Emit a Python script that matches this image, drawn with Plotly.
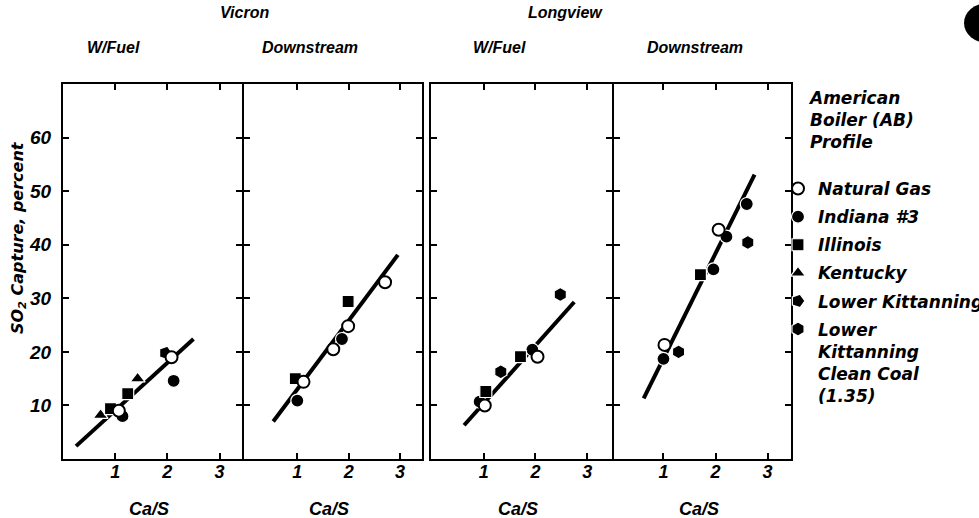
import plotly.graph_objects as go

# ---------------- data ----------------
x_tick_vals = [1, 2, 3]
x_tick_text = ["1", "2", "3"]
y_tick_vals = [10, 20, 30, 40, 50, 60]
y_tick_text = ["10", "20", "30", "40", "50", "60"]

plant_titles = ["Vicron", "Longview"]
panel_titles = ["W/Fuel", "Downstream", "W/Fuel", "Downstream"]

fuel_names = ["Natural Gas", "Indiana #3", "Illinois", "Kentucky",
              "Lower Kittanning", "Lower<br>Kittanning<br>Clean Coal<br>(1.35)"]

# Panel 1: Vicron, W/Fuel
p1_gas_x = [1.07, 2.08]
p1_gas_y = [9.0, 19.0]
p1_ind_x = [1.14, 2.12]
p1_ind_y = [8.0, 14.6]
p1_ill_x = [0.91, 1.24]
p1_ill_y = [9.4, 12.2]
p1_ken_x = [0.72, 1.43]
p1_ken_y = [8.2, 15.0]
p1_lk_x = [1.96]
p1_lk_y = [19.8]
p1_fit_x = [0.25, 2.5]
p1_fit_y = [2.4, 22.4]

# Panel 2: Vicron, Downstream
p2_gas_x = [1.12, 1.70, 1.99, 2.71]
p2_gas_y = [14.4, 20.5, 24.8, 33.0]
p2_ind_x = [1.00, 1.87]
p2_ind_y = [10.9, 22.4]
p2_ill_x = [0.96, 1.99]
p2_ill_y = [15.0, 29.4]
p2_fit_x = [0.53, 2.96]
p2_fit_y = [7.0, 38.1]

# Panel 3: Longview, W/Fuel
p3_gas_x = [1.02, 2.04]
p3_gas_y = [10.0, 19.1]
p3_ind_x = [0.92, 1.94]
p3_ind_y = [10.7, 20.4]
p3_ill_x = [1.04, 1.71]
p3_ill_y = [12.6, 19.1]
p3_cc_x = [1.33, 2.48]
p3_cc_y = [16.3, 30.7]
p3_fit_x = [0.62, 2.75]
p3_fit_y = [6.3, 29.3]

# Panel 4: Longview, Downstream
p4_gas_x = [1.02, 2.06]
p4_gas_y = [21.3, 42.8]
p4_ind_x = [1.00, 1.96, 2.21, 2.60]
p4_ind_y = [18.7, 35.4, 41.5, 47.6]
p4_ill_x = [1.71]
p4_ill_y = [34.4]
p4_cc_x = [1.29, 2.62]
p4_cc_y = [20.0, 40.4]
p4_fit_x = [0.62, 2.75]
p4_fit_y = [11.3, 53.1]

# ---------------- layout helpers ----------------
FW, FH = 979, 518


def PX(x):
    return x / FW


def PY(y):
    return (FH - y) / FH


BOLD_IT = dict(family="Liberation Sans, Arial, sans-serif", color="black",
               weight="bold", style="italic")
LEG_FONT = dict(family="DejaVu Sans, sans-serif", color="black", size=17,
                weight="bold", style="italic")

WL = dict(color="white", width=1.2)
styles = {
    "gas": dict(symbol="circle", size=12, color="white", line=dict(color="black", width=2)),
    "ind": dict(symbol="circle", size=13, color="black", line=WL),
    "ill": dict(symbol="square", size=12, color="black", line=WL),
    "ken": dict(symbol="triangle-up", size=13, color="black", line=WL),
    "lk": dict(symbol="pentagon", angle=90, size=14, color="black", line=WL),
    "cc": dict(symbol="hexagon", size=14, color="black", line=WL),
}
rank = {"gas": 1, "ind": 2, "ill": 3, "ken": 4, "lk": 5, "cc": 6}
label = dict(zip(["gas", "ind", "ill", "ken", "lk", "cc"], fuel_names))

panels = [
    dict(fit=(p1_fit_x, p1_fit_y), pts=[("ken", p1_ken_x, p1_ken_y), ("ill", p1_ill_x, p1_ill_y),
                                        ("ind", p1_ind_x, p1_ind_y), ("lk", p1_lk_x, p1_lk_y),
                                        ("gas", p1_gas_x, p1_gas_y)]),
    dict(fit=(p2_fit_x, p2_fit_y), pts=[("ill", p2_ill_x, p2_ill_y), ("ind", p2_ind_x, p2_ind_y),
                                        ("gas", p2_gas_x, p2_gas_y)]),
    dict(fit=(p3_fit_x, p3_fit_y), pts=[("ind", p3_ind_x, p3_ind_y), ("ill", p3_ill_x, p3_ill_y),
                                        ("cc", p3_cc_x, p3_cc_y), ("gas", p3_gas_x, p3_gas_y)]),
    dict(fit=(p4_fit_x, p4_fit_y), pts=[("ill", p4_ill_x, p4_ill_y), ("ind", p4_ind_x, p4_ind_y),
                                        ("cc", p4_cc_x, p4_cc_y), ("gas", p4_gas_x, p4_gas_y)]),
]

# panel page-pixel boxes (left, right); shared borders offset 2px so lines coincide
px_x = [(63, 242), (244, 422), (431, 612), (614, 791)]
x_ranges = [[0.0, 3.43], [-0.04, 3.43], [-0.02, 3.48], [0.05, 3.45]]
top_px, bot_px = 84, 459

fig = go.Figure()
shown = set()
for i, p in enumerate(panels):
    ax = "" if i == 0 else str(i + 1)
    fx, fy = p["fit"]
    fig.add_trace(go.Scatter(x=fx, y=fy, mode="lines", line=dict(color="black", width=4),
                             xaxis="x" + ax, yaxis="y" + ax, showlegend=False, hoverinfo="skip"))
    for key, xs, ys in p["pts"]:
        show = key not in shown
        shown.add(key)
        fig.add_trace(go.Scatter(x=xs, y=ys, mode="markers", marker=dict(styles[key]),
                                 name=label[key], legendgroup=key, legendrank=rank[key],
                                 showlegend=show, xaxis="x" + ax, yaxis="y" + ax))

ydom = [PY(bot_px), PY(top_px)]
for i in range(4):
    ax = "" if i == 0 else str(i + 1)
    l, r = px_x[i]
    fig.update_layout(**{
        "xaxis" + ax: dict(domain=[PX(l), PX(r)], range=x_ranges[i], anchor="y" + ax,
                           tickvals=x_tick_vals, ticktext=x_tick_text, ticks="inside",
                           ticklen=6, tickwidth=2, tickcolor="black", showline=True,
                           linewidth=2, linecolor="black", mirror="ticks", showgrid=False,
                           zeroline=False, ticklabelstandoff=-5,
                           tickfont=dict(BOLD_IT, size=18)),
        "yaxis" + ax: dict(domain=ydom, range=[0, 70], anchor="x" + ax,
                           tickvals=y_tick_vals, ticktext=y_tick_text, ticks="inside",
                           ticklen=6, tickwidth=2, tickcolor="black", showline=True,
                           linewidth=2, linecolor="black", mirror="ticks", showgrid=False,
                           zeroline=False, showticklabels=(i == 0), ticklabelstandoff=6,
                           tickfont=dict(BOLD_IT, size=19)),
    })

ann = []
title_font = dict(family="Liberation Sans, Arial", color="black",
                  size=16, style="italic", weight="bold")
for txt, xp in zip(plant_titles, [245, 565]):
    ann.append(dict(text=txt, x=PX(xp), y=PY(13), xref="paper", yref="paper",
                    showarrow=False, xanchor="center", yanchor="middle", font=title_font))
for txt, xp in zip(panel_titles, [113, 310, 500, 695]):
    ann.append(dict(text=txt, x=PX(xp), y=PY(47), xref="paper", yref="paper",
                    showarrow=False, xanchor="center", yanchor="middle", font=title_font))
for i in range(4):
    l, r = px_x[i]
    ann.append(dict(text="Ca/S", x=PX((l + r) / 2 - 4), y=PY(509), xref="paper",
                    yref="paper", showarrow=False, xanchor="center", yanchor="middle",
                    font=dict(BOLD_IT, size=18)))
ann.append(dict(text="SO<sub>2</sub> Capture, percent", x=PX(19), y=PY(238),
                xref="paper", yref="paper", showarrow=False, textangle=-90,
                xanchor="center", yanchor="middle", font=dict(LEG_FONT, size=16)))
ann.append(dict(text="American<br>Boiler (AB)<br>Profile", x=PX(806), y=PY(120),
                xref="paper", yref="paper", showarrow=False, xanchor="left",
                yanchor="middle", align="left", font=LEG_FONT))

fig.update_layout(
    width=FW, height=FH, margin=dict(l=0, r=0, t=0, b=0, autoexpand=False),
    paper_bgcolor="white", plot_bgcolor="white",
    annotations=ann,
    showlegend=True,
    legend=dict(x=PX(778), y=PY(171), xanchor="left", yanchor="top",
                font=LEG_FONT, valign="top", tracegroupgap=3, bgcolor="rgba(0,0,0,0)",
                traceorder="grouped", itemsizing="trace"),
    shapes=[dict(type="circle", xref="paper", yref="paper", x0=PX(964), x1=PX(1012),
                 y0=PY(43), y1=PY(3), fillcolor="black", line=dict(width=0))],
)

fig.write_html("out.html",
               config={"displayModeBar": False},
               post_script="document.body.style.margin='0px';"
                           "document.documentElement.style.overflow='hidden';")
